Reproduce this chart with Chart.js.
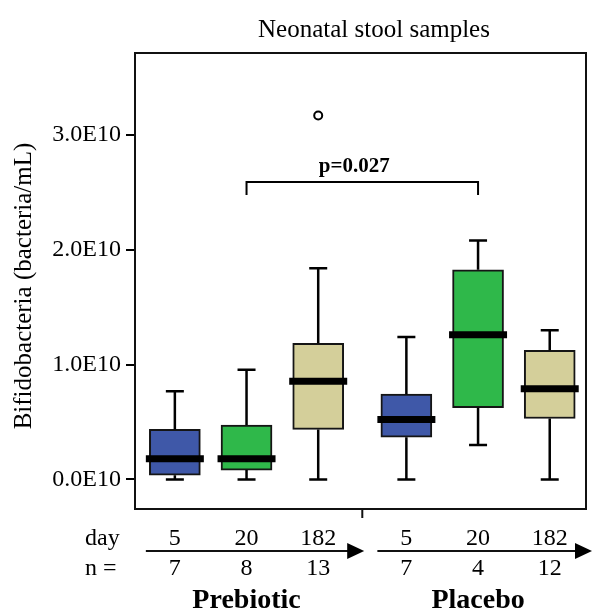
<!DOCTYPE html>
<html lang="en">
<head>
<meta charset="UTF-8">
<title>Neonatal stool samples</title>
<script src="https://cdn.jsdelivr.net/npm/chart.js@4.4.0/dist/chart.umd.min.js"></script>
<style>
  body { margin: 0; background: #fff; }
  .chart-container { width: 592px; height: 612px; }
</style>
</head>
<body>
<div class="chart-container"><canvas id="myChart"></canvas></div>
<script>
// data, boxes ordered Prebiotic 5/20/182 then Placebo 5/20/182
const groups = ['Prebiotic', 'Placebo'];
const days = ['5', '20', '182'];
const nCounts = ['7', '8', '13', '7', '4', '12'];
const boxMin = [0, 0, 0, 0, 0.30e10, 0];
const boxQ1 = [0.036e10, 0.081e10, 0.435e10, 0.368e10, 0.625e10, 0.53e10];
const boxMedian = [0.18e10, 0.18e10, 0.854e10, 0.521e10, 1.26e10, 0.789e10];
const boxQ3 = [0.435e10, 0.474e10, 1.185e10, 0.742e10, 1.826e10, 1.125e10];
const boxMax = [0.767e10, 0.954e10, 1.84e10, 1.24e10, 2.08e10, 1.30e10];
const outliers = [{ box: 2, value: 3.17e10 }];
const yTickValues = [0, 1e10, 2e10, 3e10];
const yTickLabels = ['0.0E10', '1.0E10', '2.0E10', '3.0E10'];
const pValue = 'p=0.027';
const pPair = [1, 4];

const dayColors = ['#3f58a8', '#2fb84a', '#d4cf9a'];
const groupGap = 3.23;
const serif = '"Liberation Serif", "Times New Roman", serif';

function boxX(i) {
    return (i % 3) + Math.floor(i / 3) * groupGap;
}

const boxData = boxQ1.map((q1, i) => ({ x: boxX(i), y: [q1, boxQ3[i]] }));
const outlierData = outliers.map(o => ({ x: boxX(o.box), y: o.value }));

const boxExtras = {
    id: 'boxExtras',
    afterDatasetsDraw(chart) {
        const { ctx, scales: { x, y } } = chart;
        ctx.save();
        ctx.strokeStyle = '#000';
        ctx.lineCap = 'butt';
        boxQ1.forEach((q1, i) => {
            const cx = x.getPixelForValue(boxX(i));
            // whiskers
            ctx.lineWidth = 2.5;
            ctx.beginPath();
            ctx.moveTo(cx, y.getPixelForValue(boxQ3[i]));
            ctx.lineTo(cx, y.getPixelForValue(boxMax[i]));
            ctx.moveTo(cx, y.getPixelForValue(q1));
            ctx.lineTo(cx, y.getPixelForValue(boxMin[i]));
            ctx.moveTo(cx - 9, y.getPixelForValue(boxMax[i]));
            ctx.lineTo(cx + 9, y.getPixelForValue(boxMax[i]));
            ctx.moveTo(cx - 9, y.getPixelForValue(boxMin[i]));
            ctx.lineTo(cx + 9, y.getPixelForValue(boxMin[i]));
            ctx.stroke();
            // median
            ctx.lineWidth = 7;
            ctx.beginPath();
            ctx.moveTo(cx - 29, y.getPixelForValue(boxMedian[i]));
            ctx.lineTo(cx + 29, y.getPixelForValue(boxMedian[i]));
            ctx.stroke();
        });

        // significance bracket
        const bx1 = x.getPixelForValue(boxX(pPair[0]));
        const bx2 = x.getPixelForValue(boxX(pPair[1]));
        const by = y.getPixelForValue(2.59e10);
        ctx.lineWidth = 2;
        ctx.beginPath();
        ctx.moveTo(bx1, by + 13);
        ctx.lineTo(bx1, by);
        ctx.lineTo(bx2, by);
        ctx.lineTo(bx2, by + 13);
        ctx.stroke();
        ctx.fillStyle = '#000';
        ctx.font = 'bold 21px ' + serif;
        ctx.textAlign = 'center';
        ctx.textBaseline = 'alphabetic';
        ctx.fillText(pValue, (bx1 + bx2) / 2 - 8, by - 10);
        ctx.restore();
    },
    afterDraw(chart) {
        const { ctx, chartArea: area, scales: { x } } = chart;
        ctx.save();
        // frame
        ctx.strokeStyle = '#111';
        ctx.lineWidth = 2;
        ctx.strokeRect(area.left, area.top, area.right - area.left, area.bottom - area.top);

        // title
        ctx.fillStyle = '#000';
        ctx.font = '25px ' + serif;
        ctx.textAlign = 'center';
        ctx.textBaseline = 'alphabetic';
        ctx.fillText('Neonatal stool samples', 374, 37);

        // y axis title
        ctx.save();
        ctx.translate(24, 286);
        ctx.rotate(-Math.PI / 2);
        ctx.textBaseline = 'middle';
        ctx.fillText('Bifidobacteria (bacteria/mL)', 0, 0);
        ctx.restore();

        // group divider tick
        const mid = x.getPixelForValue((boxX(2) + boxX(3)) / 2);
        ctx.beginPath();
        ctx.moveTo(mid, area.bottom);
        ctx.lineTo(mid, area.bottom + 9);
        ctx.stroke();

        // day / n rows
        ctx.font = '24px ' + serif;
        ctx.textAlign = 'left';
        ctx.fillText('day', 85, area.bottom + 36);
        ctx.fillText('n =', 85, area.bottom + 66);
        ctx.textAlign = 'center';
        nCounts.forEach((n, i) => {
            const cx = x.getPixelForValue(boxX(i));
            ctx.fillText(days[i % 3], cx, area.bottom + 36);
            ctx.fillText(n, cx, area.bottom + 66);
        });

        // arrows and group names
        const ay = area.bottom + 42;
        groups.forEach((g, gi) => {
            const x0 = x.getPixelForValue(boxX(gi * 3)) - 29;
            const tip = gi === 0 ? x.getPixelForValue(boxX(2)) + 46 : chart.width;
            ctx.lineWidth = 2;
            ctx.beginPath();
            ctx.moveTo(x0, ay);
            ctx.lineTo(tip - 16, ay);
            ctx.stroke();
            ctx.beginPath();
            ctx.moveTo(tip, ay);
            ctx.lineTo(tip - 17, ay - 8);
            ctx.lineTo(tip - 17, ay + 8);
            ctx.closePath();
            ctx.fill();

            ctx.font = 'bold 28px ' + serif;
            ctx.fillText(g, x.getPixelForValue(boxX(gi * 3 + 1)), area.bottom + 99);
        });
        ctx.restore();
    }
};

const config = {
    type: 'bar',
    data: {
        datasets: [
            {
                type: 'bar',
                data: boxData,
                backgroundColor: boxData.map((d, i) => dayColors[i % 3]),
                borderColor: '#151515',
                borderWidth: 2,
                borderSkipped: false,
                barThickness: 51,
                order: 2
            },
            {
                type: 'scatter',
                data: outlierData,
                pointStyle: 'circle',
                pointRadius: 4,
                pointBackgroundColor: '#fff',
                pointBorderColor: '#000',
                pointBorderWidth: 2,
                order: 1
            }
        ]
    },
    options: {
        responsive: true,
        maintainAspectRatio: false,
        animation: false,
        layout: { padding: { top: 53, right: 4, bottom: 103, left: 0 } },
        plugins: {
            legend: { display: false },
            tooltip: { enabled: false }
        },
        scales: {
            x: {
                type: 'linear',
                display: false,
                offset: false,
                min: -0.556,
                max: 5.736
            },
            y: {
                min: -0.258e10,
                max: 3.714e10,
                afterFit: scale => { scale.width = 135; },
                afterBuildTicks: scale => {
                    scale.ticks = yTickValues.map(v => ({ value: v }));
                },
                border: { display: false },
                grid: {
                    drawOnChartArea: false,
                    drawTicks: true,
                    tickLength: 9,
                    color: '#000',
                    lineWidth: 2
                },
                ticks: {
                    color: '#000',
                    padding: 5,
                    font: { size: 24, family: serif },
                    callback: (v, idx) => yTickLabels[idx]
                }
            }
        }
    },
    plugins: [boxExtras]
};

const myChart = new Chart(document.getElementById('myChart'), config);
</script>
</body>
</html>
